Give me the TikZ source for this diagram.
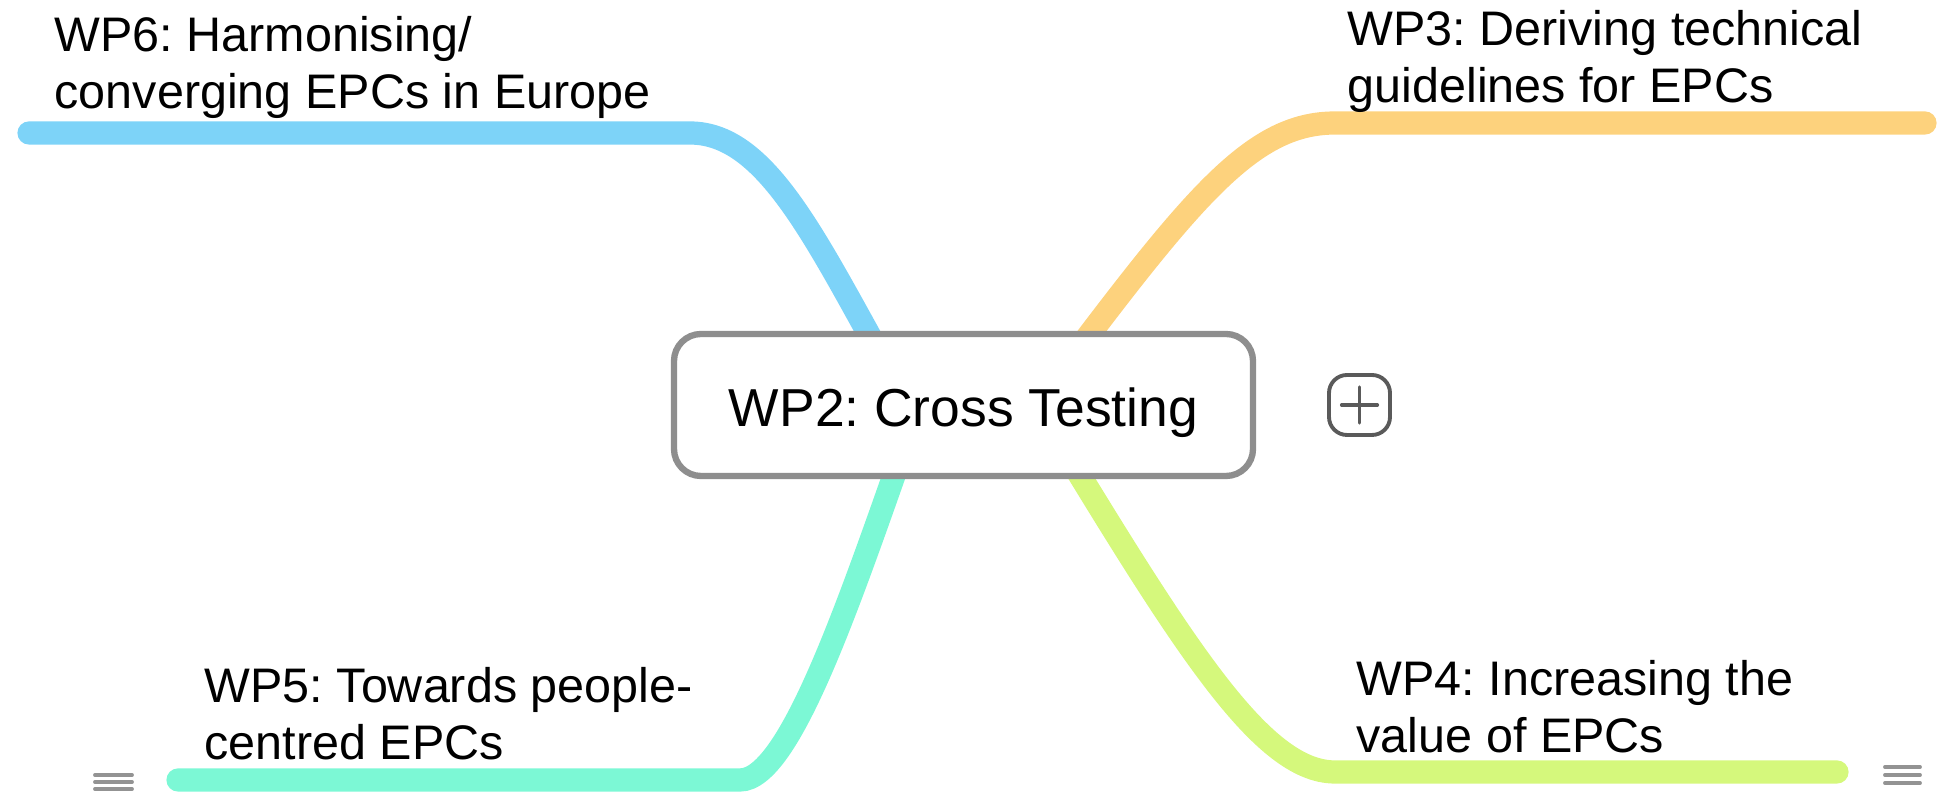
\documentclass[tikz,border=0pt]{standalone}
\usepackage{fontspec}
\setmainfont{Liberation Sans}
\usetikzlibrary{backgrounds}
\definecolor{wpblue}{HTML}{7DD3F8}
\definecolor{wporange}{HTML}{FDD27D}
\definecolor{wpgreen}{HTML}{7CF8D5}
\definecolor{wplime}{HTML}{D5F87C}
\definecolor{boxgray}{HTML}{8E8E8E}
\definecolor{icongray}{HTML}{5A5A5A}
\frenchspacing
\begin{document}
\begin{tikzpicture}[line cap=round,line join=round,x=1.0cm,y=1.0cm,
		wpline/.style={line width=6.6pt,line cap=round},
		wplabel/.style={anchor=north west,inner sep=0pt,align=left,font=\fontsize{13.8}{16.2}\selectfont},
		menuicon/.style={line width=1.1pt,draw=gray!85}]
			\useasboundingbox (0,0) rectangle (19.39,7.94);
			\node[draw=boxgray,line width=1.8pt,rounded corners=0.27cm,fill=white,minimum width=5.79cm,minimum height=1.42cm,text height=0.48cm,text depth=0.04cm,font=\fontsize{15.2}{18}\selectfont] (wp2) at (9.635,3.89) {WP2: Cross Testing};
			\node[draw=icongray,line width=1.1pt,rounded corners=0.18cm,minimum width=0.61cm,minimum height=0.60cm,inner sep=0pt] (more) at (13.595,3.89) {};
			\draw[icongray,line width=0.9pt] ([xshift=-0.18cm]more.center) -- ([xshift=0.18cm]more.center);
			\draw[icongray,line width=0.9pt] ([yshift=-0.18cm]more.center) -- ([yshift=0.18cm]more.center);
			\node[wplabel] (wp6) at (0.54,7.78) {WP6: Harmonising/\\converging EPCs in Europe};
			\node[wplabel] (wp3) at (13.47,7.84) {WP3: Deriving technical\\guidelines for EPCs};
			\node[wplabel] (wp5) at (2.04,1.27) {WP5: Towards people-\\centred EPCs};
			\node[wplabel] (wp4) at (13.56,1.34) {WP4: Increasing the\\value of EPCs};
			\coordinate (wp6tip) at (0.29,6.61);
			\coordinate (wp6bend) at (6.90,6.61);
			\coordinate (wp6root) at (9.00,4.04);
			\coordinate (wp3tip) at (19.25,6.71);
			\coordinate (wp3bend) at (13.35,6.71);
			\coordinate (wp3root) at (10.40,3.94);
			\coordinate (wp5tip) at (1.78,0.14);
			\coordinate (wp5bend) at (7.40,0.14);
			\coordinate (wp5root) at (9.10,3.64);
			\coordinate (wp4tip) at (18.37,0.22);
			\coordinate (wp4bend) at (13.35,0.22);
			\coordinate (wp4root) at (10.40,3.84);
			\begin{scope}[on background layer]
			\draw[wpline,wpblue] (wp6tip) -- (wp6bend) .. controls (7.70,6.61) and (8.20,5.44) .. (wp6root);
			\draw[wpline,wporange] (wp3tip) -- (wp3bend) .. controls (12.50,6.71) and (11.90,5.94) .. (wp3root);
			\draw[wpline,wpgreen] (wp5tip) -- (wp5bend) .. controls (7.90,0.14) and (8.50,1.94) .. (wp5root);
			\draw[wpline,wplime] (wp4tip) -- (wp4bend) .. controls (12.60,0.22) and (11.80,1.54) .. (wp4root);
			\end{scope}
			\foreach \y in {0.27,0.19,0.11} \draw[menuicon] (18.85,\y) -- (19.20,\y);
			\foreach \y in {0.19,0.12,0.05} \draw[menuicon] (0.95,\y) -- (1.32,\y);
		\end{tikzpicture}
\end{document}
